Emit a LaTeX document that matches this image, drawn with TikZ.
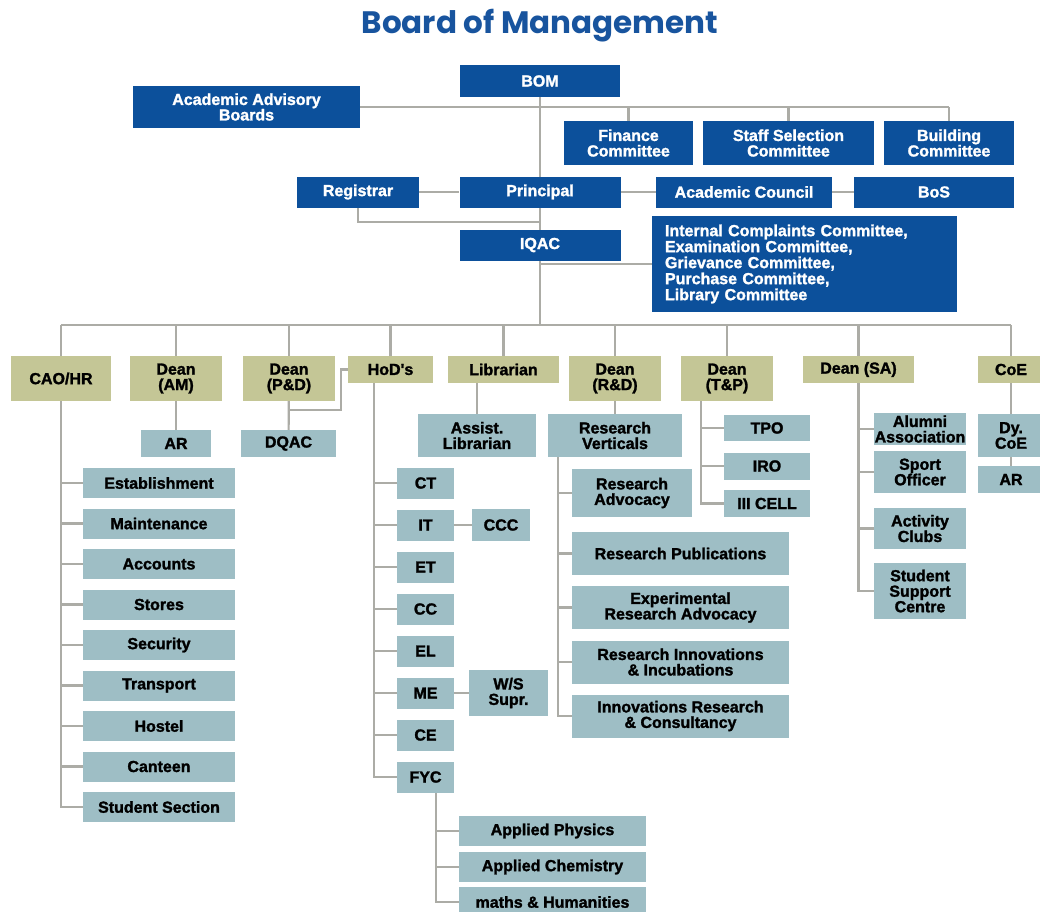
\documentclass[tikz,border=0pt]{standalone}
\usepackage{fontspec}
\setmainfont{Liberation Sans}
\newfontfamily\heavyfont{Liberation Sans Bold}[FakeBold=1.6]
\newfontfamily\titlefont{Poppins}
\usetikzlibrary{backgrounds}
\definecolor{bomblue}{RGB}{12,80,155}
\definecolor{headolive}{RGB}{196,198,150}
\definecolor{subteal}{RGB}{158,190,197}
\definecolor{linegrey}{RGB}{172,172,166}
\definecolor{titleblue}{RGB}{24,84,158}
\tikzset{
  box/.style={inner sep=0pt,align=center,font=\heavyfont\fontsize{16}{15.5}\selectfont},
  sz/.style 2 args={minimum width=#1pt,minimum height=#2pt},
  bbox/.style={box,fill=bomblue,text=white},
  hbox/.style={box,fill=headolive,text=black},
  sbox/.style={box,fill=subteal,text=black},
  ln/.style={draw=linegrey,line width=2.2pt}
}
\begin{document}
\begin{tikzpicture}[x=1pt,y=-1pt]
\useasboundingbox (0,0) rectangle (1040,911);
\clip (0,0) rectangle (1040,911);
\node[text=titleblue,font=\titlefont\bfseries\fontsize{31}{33}\selectfont] (title) at (540,26) {Board of Management};
% blue part
\node[bbox,sz={160}{32}] (bom) at (540,81) {BOM};
\node[bbox,sz={227}{42}] (aab) at (246.5,107) {Academic Advisory\\Boards};
\node[bbox,sz={129}{44}] (fin) at (628.5,143) {Finance\\Committee};
\node[bbox,sz={171}{44}] (staff) at (788.5,143) {Staff Selection\\Committee};
\node[bbox,sz={130}{44}] (bldg) at (949,143) {Building\\Committee};
\node[bbox,sz={122}{31}] (registrar) at (358,192) {Registrar};
\node[bbox,sz={161}{31}] (principal) at (540,192) {Principal};
\node[bbox,sz={176}{31}] (acouncil) at (744,192) {Academic Council};
\node[bbox,sz={160}{31}] (bos) at (934,192) {BoS};
\node[bbox,sz={161}{31}] (iqac) at (540,245) {IQAC};
\node[bbox,align=left,inner xsep=13pt,text width=279pt,minimum height=96pt,
  font=\heavyfont\fontsize{16}{16}\selectfont] (comms) at (804.5,264)
  {Internal Complaints Committee,\\Examination Committee,\\Grievance Committee,\\Purchase Committee,\\Library Committee};
% heads
\node[hbox,sz={100}{45}] (caohr) at (61,378.5) {CAO/HR};
\node[hbox,sz={92}{45}] (deanam) at (176,378.5) {Dean\\(AM)};
\node[hbox,sz={92}{45}] (deanpd) at (289,378.5) {Dean\\(P\&D)};
\node[hbox,sz={85}{27}] (hods) at (390.5,369.5) {HoD's};
\node[hbox,sz={111}{27}] (librarian) at (503.5,369.5) {Librarian};
\node[hbox,sz={92}{45}] (deanrd) at (615,378.5) {Dean\\(R\&D)};
\node[hbox,sz={92}{45}] (deantp) at (727,378.5) {Dean\\(T\&P)};
\node[hbox,sz={111}{27}] (deansa) at (858.5,369.5) {Dean (SA)};
\node[hbox,sz={66}{27}] (coe) at (1011,369.5) {CoE};
% sub units
\node[sbox,sz={70}{27}] (ar1) at (176,443.5) {AR};
\node[sbox,sz={95}{27}] (dqac) at (288.5,443.5) {DQAC};
\node[sbox,sz={118}{43}] (assistlib) at (477,435.5) {Assist.\\Librarian};
\node[sbox,sz={134}{43}] (resvert) at (615,435.5) {Research\\Verticals};
\node[sbox,sz={86}{26}] (tpo) at (767,428) {TPO};
\node[sbox,sz={86}{27}] (iro) at (767,466) {IRO};
\node[sbox,sz={86}{27}] (iiicell) at (767,503.5) {III CELL};
\node[sbox,sz={92}{32}] (alumni) at (920,429) {Alumni\\Association};
\node[sbox,sz={92}{42}] (sport) at (920,472) {Sport\\Officer};
\node[sbox,sz={92}{41}] (clubs) at (920,528.5) {Activity\\Clubs};
\node[sbox,sz={92}{56}] (ssc) at (920,591) {Student\\Support\\Centre};
\node[sbox,sz={66}{43}] (dycoe) at (1011,435.5) {Dy.\\CoE};
\node[sbox,sz={66}{27}] (ar2) at (1011,479.5) {AR};
\foreach \t [count=\i] in {Establishment,Maintenance,Accounts,Stores,Security,Transport,Hostel,Canteen,Student Section}
  \node[sbox,sz={152}{30}] (cao\i) at (159,{483+40.5*(\i-1)}) {\t};
\foreach \t [count=\i] in {CT,IT,ET,CC,EL,ME,CE,FYC}
  \node[sbox,sz={57}{31}] (hod\i) at (425.5,{483+42*(\i-1)}) {\t};
\node[sbox,sz={58}{32}] (ccc) at (501,525) {CCC};
\node[sbox,sz={79}{46}] (wssupr) at (508.5,693) {W/S\\Supr.};
\foreach \t/\y [count=\i] in {Applied Physics/831,Applied Chemistry/867,maths \& Humanities/902}
  \node[sbox,sz={187}{30}] (fyc\i) at (552.5,\y) {\t};
\node[sbox,sz={120}{48}] (resadv) at (632,493) {Research\\Advocacy};
\node[sbox,sz={217}{43}] (respub) at (680.5,553.5) {Research Publications};
\node[sbox,sz={217}{43}] (expres) at (680.5,607.5) {Experimental\\Research Advocacy};
\node[sbox,sz={217}{43}] (resinn) at (680.5,662) {Research Innovations\\\& Incubations};
\node[sbox,sz={217}{43}] (inncons) at (680.5,716) {Innovations Research\\\& Consultancy};
% connectors
\begin{scope}[on background layer]
\fill[white] (0,0) rectangle (1040,911);
\coordinate (split) at (540,325);
\draw[ln] (aab) -- (aab -| bldg);
\foreach \n in {fin,staff,bldg} \draw[ln] (aab -| \n) -- (\n);
\draw[ln] (bom) -- (split);
\draw[ln] (registrar) -- (principal) -- (acouncil) -- (bos);
\draw[ln] (registrar) |- ([yshift=7pt]iqac.north);
\draw[ln] (iqac) |- (comms);
\draw[ln] (split -| caohr) -- (split -| coe);
\foreach \n in {caohr,deanam,deanpd,hods,librarian,deanrd,deantp,deansa,coe} \draw[ln] (split -| \n) -- (\n);
\draw[ln] (deanam) -- (ar1);
\draw[ln] (deanpd) -- (dqac);
\coordinate (pdj) at (deanpd |- 0,410);
\draw[ln] (hods.west) -- ++(-7,0) |- (pdj);
\draw[ln] (caohr) |- (cao9);
\foreach \i in {1,...,8} \draw[ln] (caohr |- cao\i) -- (cao\i);
\coordinate (hodline) at ([xshift=-16.5pt]hods.south);
\draw[ln] (hodline) |- (hod8);
\foreach \i in {1,...,7} \draw[ln] (hodline |- hod\i) -- (hod\i);
\draw[ln] (hod2) -- (ccc);
\draw[ln] (hod6) -- (wssupr);
\coordinate (fycline) at ([xshift=10.5pt]hod8.south);
\draw[ln] (fycline) |- (fyc3);
\foreach \i in {1,2} \draw[ln] (fycline |- fyc\i) -- (fyc\i);
\draw[ln] (assistlib) -- (assistlib |- librarian);
\draw[ln] (deanrd) -- (resvert);
\coordinate (rvline) at ([xshift=-57pt]resvert.south);
\draw[ln] (rvline) |- (inncons);
\foreach \n in {resadv,respub,expres,resinn} \draw[ln] (rvline |- \n) -- (\n);
\coordinate (tpline) at ([xshift=-26pt]deantp.south);
\draw[ln] (tpline) |- (iiicell);
\foreach \n in {tpo,iro} \draw[ln] (tpline |- \n) -- (\n);
\draw[ln] (deansa) |- (ssc);
\foreach \n in {alumni,sport,clubs} \draw[ln] (deansa |- \n) -- (\n);
\draw[ln] (coe) -- (ar2);
\end{scope}
\end{tikzpicture}
\end{document}
